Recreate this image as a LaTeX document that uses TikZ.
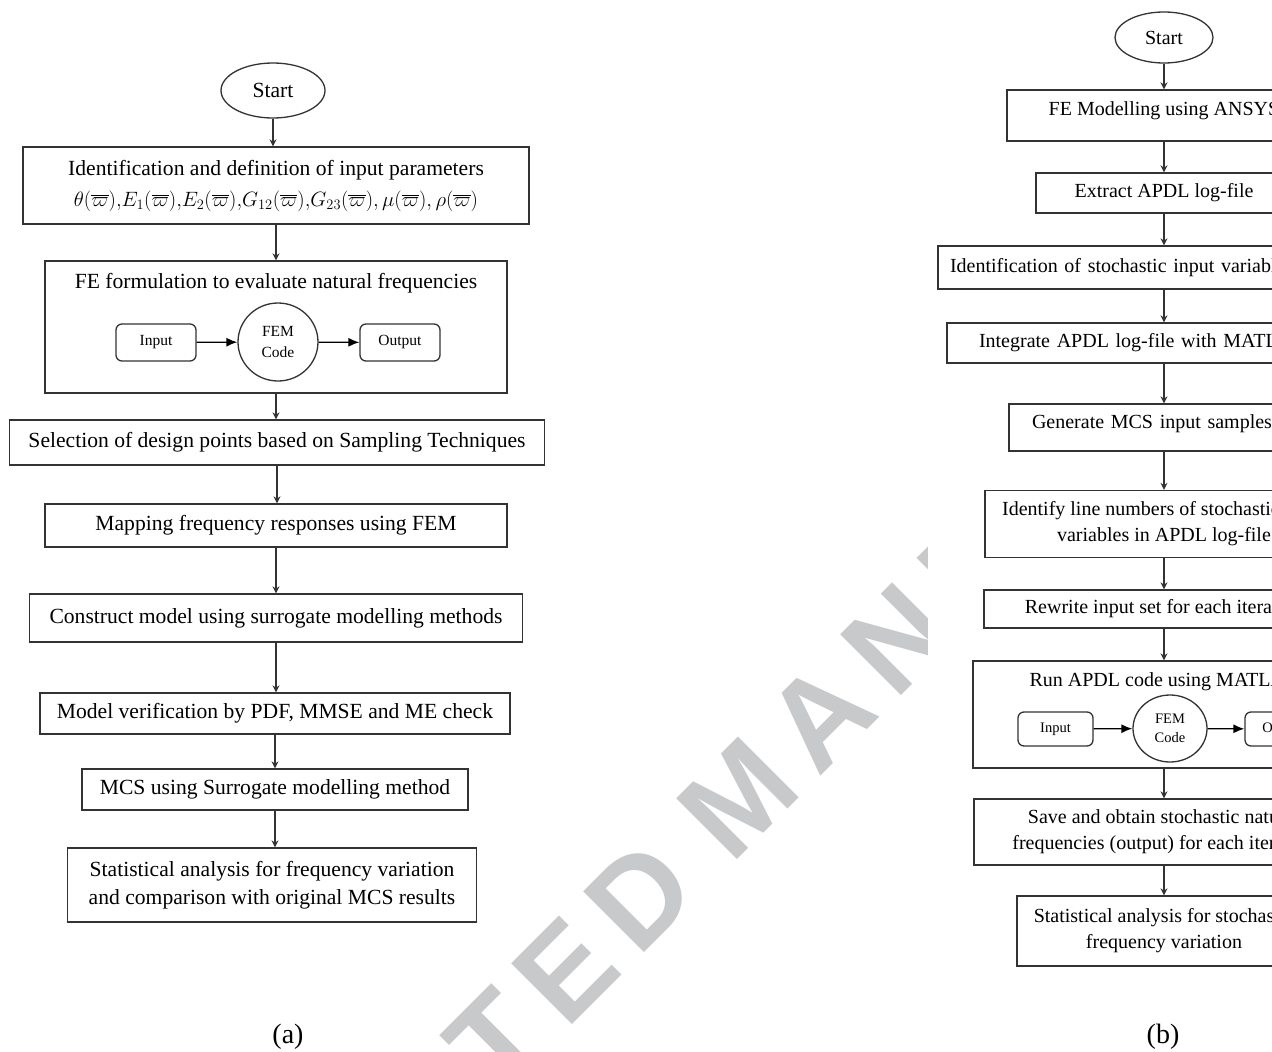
\documentclass[tikz,border=0pt]{standalone}
\usepackage{fontspec}
\setmainfont{Liberation Serif}
\newfontfamily\wmfont{Liberation Sans}[LetterSpace=15]
\usetikzlibrary{arrows.meta,shapes.geometric,positioning}
\definecolor{linegray}{HTML}{333333}
\definecolor{wmgray}{HTML}{C8C9CB}

\begin{document}
\begin{tikzpicture}
  [
  x=1pt, y=-1pt, line width=1.3pt, >={Stealth[length=7pt,width=7pt]},
  font=\fontsize{21.6}{28}\selectfont,
  startnode/.style={ellipse, draw=linegray, inner sep=0pt},
  process/.style={rectangle, draw=linegray, inner sep=0pt, align=center},
  smallbox/.style={rectangle, draw=linegray, rounded corners=6pt, inner sep=0pt, font=\fontsize{15.5}{17}\selectfont},
  femnode/.style={ellipse, draw=linegray, inner sep=0pt, align=center, font=\fontsize{15.5}{21}\selectfont},
  flow/.style={->, draw=linegray},
  inner/.style={-{Latex[length=11pt,width=9pt]}, draw=black},
  caption/.style={font=\fontsize{28}{30}\selectfont},
  wmark/.style={rotate=45, inner sep=0pt, text=wmgray, font=\wmfont\bfseries\fontsize{125}{125}\selectfont}
  ]
\useasboundingbox (0,0) rectangle (1272,1052);
\clip (0,0) rectangle (1272,1052);

% watermark, hidden behind panel (b)
\begin{scope}
\clip (0,0) rectangle (927,1052);
\node[wmark, anchor=base west] (wmr) at (731,866) {MANUSCRIPT};
\node[wmark, anchor=base east] (wml) at (703,894) {ACCEPTED};
\end{scope}

% panel (a)
\node[startnode, minimum width=104pt, minimum height=55pt] (sa) at (273,90.5) {Start};
\node[process, minimum width=506pt, minimum height=77pt, font=\fontsize{21.6}{31}\selectfont] (a1) at (276,185.5)
  {Identification and definition of input parameters\\
   $\theta(\overline{\varpi}){,}E_1(\overline{\varpi}){,}E_2(\overline{\varpi}){,}G_{12}(\overline{\varpi}){,}G_{23}(\overline{\varpi}),\mu(\overline{\varpi}),\rho(\overline{\varpi})$};
\node[process, minimum width=462pt, minimum height=132pt] (a2) at (276,327) {};
\node (a2t) at (276,283) {FE formulation to evaluate natural frequencies};
\node[smallbox, minimum width=80pt, minimum height=37pt] (ain) at (156,342.5) {Input};
\node[femnode, minimum width=80pt, minimum height=78pt] (afem) at (278,342) {FEM\\Code};
\node[smallbox, minimum width=80pt, minimum height=37pt] (aout) at (400,342.5) {Output};
\node[process, minimum width=535pt, minimum height=45pt] (a3) at (277,442.5) {Selection of design points based on Sampling Techniques};
\node[process, minimum width=462pt, minimum height=43pt] (a4) at (276,525.5) {Mapping frequency responses using FEM};
\node[process, minimum width=493pt, minimum height=48pt] (a5) at (276,618) {Construct model using surrogate modelling methods};
\node[process, minimum width=470pt, minimum height=41pt] (a6) at (275,713.5) {Model verification by PDF, MMSE and ME check};
\node[process, minimum width=386pt, minimum height=41pt] (a7) at (275,789.5) {MCS using Surrogate modelling method};
\node[process, minimum width=409pt, minimum height=74pt] (a8) at (272,885)
  {Statistical analysis for frequency variation\\and comparison with original MCS results};
\node[caption] (capa) at (288,1037) {(a)};

\foreach \u/\v in {sa/a1,a1/a2,a2/a3,a3/a4,a4/a5,a5/a6,a6/a7,a7/a8} {
  \draw[flow] (\u.south) -- (\u.south |- \v.north);
}
\draw[inner] (ain) -- (afem);
\draw[inner] (afem) -- (aout);

% panel (b)
\begin{scope}[font=\fontsize{20}{26}\selectfont]
\node[startnode, minimum width=98pt, minimum height=51pt] (sb) at (1164,37.5) {Start};
\node[process, minimum width=314pt, minimum height=51pt] (b1) at (1164,115.5) {};
\node (b1t) at (1164,111) {FE Modelling using ANSYS};
\node[process, minimum width=256pt, minimum height=40pt] (b2) at (1164,193) {Extract APDL log-file};
\node[process, minimum height=43pt, align=left, inner xsep=12pt, text width=428pt] (b3) at (1164,267.5) {Identification of stochastic input variables};
\node[process, minimum height=40pt, align=left, inner xsep=32pt, text width=370pt] (b4) at (1164,343) {Integrate APDL log-file with MATLAB};
\node[process, minimum height=47pt, align=left, inner xsep=23pt, text width=264pt, text depth=11pt] (b5) at (1164,427.5) {Generate MCS input samples};
\node[process, minimum width=358pt, minimum height=67pt] (b6) at (1164,524)
  {Identify line numbers of stochastic input\\variables in APDL log-file};
\node[process, minimum width=360pt, minimum height=38pt] (b7) at (1164,609) {Rewrite input set for each iteration};
\node[process, minimum width=382pt, minimum height=107pt] (b8) at (1164,714.5) {};
\node (b8t) at (1164,682) {Run APDL code using MATLAB};
\node[smallbox, minimum width=75pt, minimum height=34pt, font=\fontsize{14.5}{16}\selectfont] (bin) at (1055.5,729) {Input};
\node[femnode, minimum width=74pt, minimum height=67pt, font=\fontsize{14.5}{19}\selectfont] (bfem) at (1170,728.5) {FEM\\Code};
\node[smallbox, minimum width=75pt, minimum height=34pt, font=\fontsize{14.5}{16}\selectfont] (bout) at (1282.5,729) {Output};
\node[process, minimum width=380pt, minimum height=66pt] (b9) at (1164,832)
  {Save and obtain stochastic natural\\frequencies (output) for each iteration};
\node[process, minimum width=294pt, minimum height=70pt] (b10) at (1164,931)
  {Statistical analysis for stochastic\\frequency variation};
\end{scope}
\node[caption] (capb) at (1163,1037) {(b)};

\foreach \u/\v in {sb/b1,b1/b2,b2/b3,b3/b4,b4/b5,b5/b6,b6/b7,b7/b8,b8/b9,b9/b10} {
  \draw[flow] (\u.south) -- (\u.south |- \v.north);
}
\draw[inner] (bin) -- (bfem);
\draw[inner] (bfem) -- (bout);

\end{tikzpicture}
\end{document}
